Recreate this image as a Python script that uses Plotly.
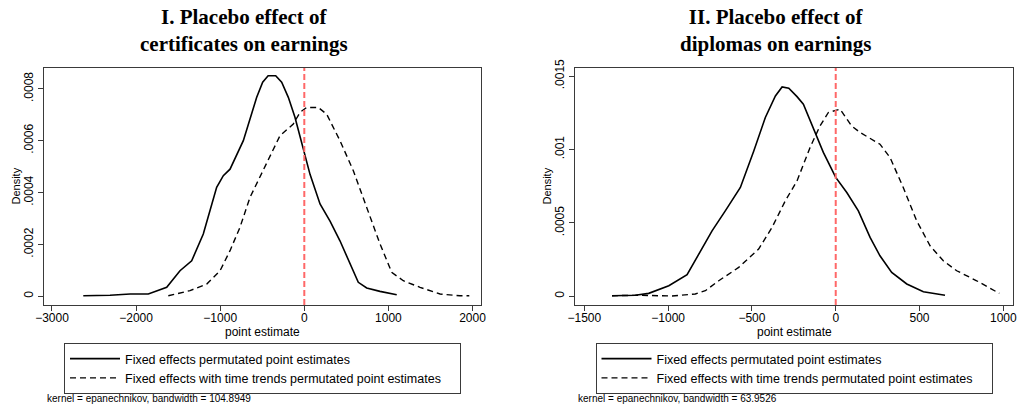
import plotly.graph_objects as go

# ---------------- data ----------------
# Panel I: certificates
cert_fe_x = [-2628, -2310, -2071, -1855, -1636, -1478, -1339, -1201, -1042, -963, -883,
             -725, -566, -495, -430, -340, -269, -190, -111, -51, 0, 68, 187, 306, 424,
             543, 642, 742, 900, 1099]
cert_fe_y = [0.000002, 0.000004, 0.0000089, 0.000009, 0.0000347, 0.0000986, 0.000137,
             0.00024, 0.00042, 0.000465, 0.00049, 0.0006, 0.000767, 0.000825, 0.00085,
             0.00085, 0.000825, 0.000767, 0.00069, 0.000613, 0.000555, 0.00047, 0.000356,
             0.00029, 0.000214, 0.000124, 0.000054, 0.000032, 0.000019, 0.000006]
cert_tt_x = [-1617, -1359, -1160, -1002, -883, -765, -646, -527, -408, -289, -131, -51, 28,
             166, 266, 424, 583, 742, 900, 1039, 1177, 1376, 1614, 1851, 1962]
cert_tt_y = [0.000002, 0.000022, 0.000047, 0.0000986, 0.000176, 0.000266, 0.000381,
             0.00046, 0.000540, 0.000619, 0.000664, 0.000709, 0.000728, 0.000728, 0.000702,
             0.0006, 0.000484, 0.000343, 0.000202, 0.0000925, 0.00006, 0.0000347,
             0.0000089, 0.000002, 0.000002]

# Panel II: diplomas
dipl_fe_x = [-1335, -1196, -1116, -996, -887, -817, -738, -659, -569, -489, -420, -360,
             -320, -280, -231, -193, -153, -113, -74, -34, 0, 66, 135, 205, 264, 334, 424,
             523, 652]
dipl_fe_y = [0.000004, 0.000007, 0.00002, 0.000072, 0.000147, 0.000288, 0.000446,
             0.000582, 0.000741, 0.00099, 0.001218, 0.001365, 0.001426, 0.001417, 0.00136,
             0.001308, 0.001195, 0.001093, 0.00098, 0.000888, 0.00081, 0.000707, 0.000582,
             0.000401, 0.000276, 0.000163, 0.000084, 0.000031, 0.000007]
dipl_tt_x = [-1335, -1176, -977, -838, -778, -698, -579, -460, -380, -301, -231, -153, -94,
             -44, 26, 95, 145, 264, 324, 403, 483, 563, 642, 722, 841, 976]
dipl_tt_y = [0.000004, 0.000007, 0.000002, 0.000016, 0.000038, 0.000106, 0.000197,
             0.000322, 0.000469, 0.00065, 0.000786, 0.001014, 0.00116, 0.001252, 0.001274,
             0.00116, 0.001116, 0.001036, 0.000946, 0.000741, 0.000514, 0.000344, 0.000242,
             0.000174, 0.000106, 0.00002]

ref_line_x = 0

titles = ["<b>I. Placebo effect of<br>certificates on earnings</b>",
          "<b>II. Placebo effect of<br>diplomas on earnings</b>"]
series_names = ["Fixed effects permutated point estimates",
                "Fixed effects with time trends permutated point estimates"]
notes = ["kernel = epanechnikov, bandwidth = 104.8949",
         "kernel = epanechnikov, bandwidth = 63.9526"]
x_title = "point estimate"
y_title = "Density"

x1_ticks = [-3000, -2000, -1000, 0, 1000, 2000]
y1_ticks = [0, 0.0002, 0.0004, 0.0006, 0.0008]
y1_text = ["0", ".0002", ".0004", ".0006", ".0008"]
x2_ticks = [-1500, -1000, -500, 0, 500, 1000]
y2_ticks = [0, 0.0005, 0.001, 0.0015]
y2_text = ["0", ".0005", ".001", ".0015"]

# ---------------- figure ----------------
SANS = "Liberation Sans, Arial, sans-serif"
SERIF = "Liberation Serif, Times New Roman, serif"
DASH = "6px,4px"
AXC = "#3a3a3a"
PAD = "\u00a0" * 4   # right padding inside the legend box

fig = go.Figure()

panels = [
    (cert_fe_x, cert_fe_y, cert_tt_x, cert_tt_y, "x", "y", "legend"),
    (dipl_fe_x, dipl_fe_y, dipl_tt_x, dipl_tt_y, "x2", "y2", "legend2"),
]
for fx, fy, tx, ty, xa, ya, lg in panels:
    fig.add_trace(go.Scatter(x=fx, y=fy, mode="lines", name=series_names[0],
                             line=dict(color="black", width=1.6),
                             xaxis=xa, yaxis=ya, legend=lg))
    fig.add_trace(go.Scatter(x=tx, y=ty, mode="lines", name=series_names[1] + PAD,
                             line=dict(color="black", width=1.4, dash=DASH),
                             xaxis=xa, yaxis=ya, legend=lg))

for xa, ya in [("x", "y"), ("x2", "y2")]:
    fig.add_shape(type="line", xref=xa, yref=ya + " domain",
                  x0=ref_line_x, x1=ref_line_x, y0=0, y1=1,
                  line=dict(color="#ff6868", width=2, dash="6px,3px"), layer="above")

W, H = 1018, 407
axis_common = dict(showgrid=False, zeroline=False, showline=True, linecolor=AXC,
                   linewidth=1.2, mirror=True, ticks="outside", ticklen=5,
                   tickcolor=AXC, tickwidth=1.2, automargin=False,
                   tickfont=dict(family=SANS, size=12, color="black"))

LEG_TOP = 343
fig.update_layout(
    width=W, height=H,
    margin=dict(l=0, r=0, t=0, b=0, autoexpand=False),
    paper_bgcolor="white", plot_bgcolor="white",
    showlegend=True,
    xaxis=dict(domain=[44 / W, 481 / W], range=[-3095, 2101], tickvals=x1_ticks,
               anchor="y", ticklabelstandoff=-4, **axis_common),
    yaxis=dict(domain=[(H - 305) / H, (H - 68) / H], range=[-0.0000335, 0.00088],
               tickvals=y1_ticks, ticktext=y1_text, tickangle=-90,
               anchor="x", **axis_common),
    xaxis2=dict(domain=[575.3 / W, 1012.7 / W], range=[-1554, 1056], tickvals=x2_ticks,
                anchor="y2", ticklabelstandoff=-4, **axis_common),
    yaxis2=dict(domain=[(H - 305) / H, (H - 68) / H], range=[-0.0000592, 0.001555],
                tickvals=y2_ticks, ticktext=y2_text, tickangle=-90,
                anchor="x2", **axis_common),
    legend=dict(x=262.5 / W, y=(H - LEG_TOP) / H, xanchor="center", yanchor="top",
                bordercolor=AXC, borderwidth=1, bgcolor="white",
                font=dict(family=SANS, size=12.5, color="black"),
                itemwidth=50, tracegroupgap=0),
    legend2=dict(x=794 / W, y=(H - LEG_TOP) / H, xanchor="center", yanchor="top",
                 bordercolor=AXC, borderwidth=1, bgcolor="white",
                 font=dict(family=SANS, size=12.5, color="black"),
                 itemwidth=50, tracegroupgap=0),
)

# panel titles
title_x = [244 / W, 775.5 / W]
for tx_, t in zip(title_x, titles):
    fig.add_annotation(x=tx_, y=(H - 30) / H, xref="paper", yref="paper",
                       text=t, showarrow=False, xanchor="center", yanchor="middle",
                       font=dict(family=SERIF, size=21, color="black"))

# axis titles
for cx in [262.5 / W, 794 / W]:
    fig.add_annotation(x=cx, y=(H - 331.5) / H, xref="paper", yref="paper",
                       text=x_title, showarrow=False, xanchor="center", yanchor="middle",
                       font=dict(family=SANS, size=12, color="black"))
for cx in [15 / W, 546 / W]:
    fig.add_annotation(x=cx, y=(H - 186.5) / H, xref="paper", yref="paper",
                       text=y_title, showarrow=False, xanchor="center", yanchor="middle",
                       textangle=-90, font=dict(family=SANS, size=11, color="black"))

# kernel notes
note_x = [45 / W, 576 / W]
for nx, n in zip(note_x, notes):
    fig.add_annotation(x=nx, y=(H - 398) / H, xref="paper", yref="paper",
                       text=n, showarrow=False, xanchor="left", yanchor="middle",
                       font=dict(family=SANS, size=10, color="black"))

fig.write_html("out.html",
               config={"displayModeBar": False},
               post_script="document.body.style.margin='0px';"
                           "document.body.style.overflow='hidden';")
